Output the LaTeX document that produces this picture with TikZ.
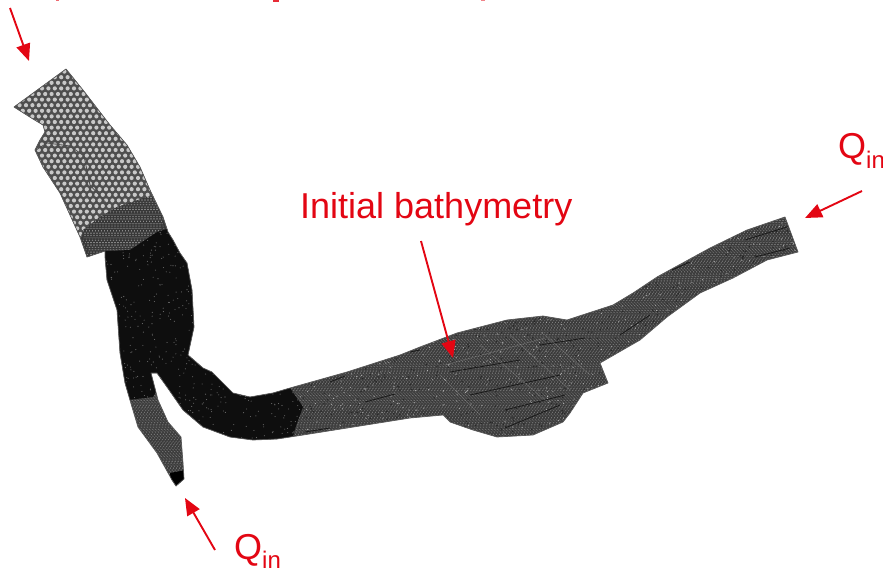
\documentclass[tikz,border=0pt]{standalone}
\usepackage{fontspec}
\setmainfont{Liberation Sans}
\usetikzlibrary{arrows.meta}
\definecolor{redarrow}{RGB}{227,6,19}
\definecolor{coarsebase}{RGB}{78,78,78}
\definecolor{coarsedot}{RGB}{200,200,200}
\definecolor{transbase}{RGB}{55,55,55}
\definecolor{transdot}{RGB}{150,150,150}
\definecolor{midbase}{RGB}{58,58,58}
\definecolor{midtex}{RGB}{130,130,130}
\definecolor{dense}{RGB}{14,14,14}
\definecolor{densedot}{RGB}{110,110,110}
\tikzset{
  px/.style={x=1pt,y=-1pt},
  callout/.style={draw=redarrow,line width=1.9pt,-{Triangle[length=17pt,width=14pt]}},
  lab/.style={text=redarrow,inner sep=0pt,anchor=base west,font=\fontsize{36pt}{38pt}\selectfont},
  outline/.style={draw=black!65,line width=.7pt,line join=round},
  streak/.style={draw=black!90,line width=.8pt},
  hatch/.style={draw=midtex,line width=.55pt,dash pattern=on .8pt off 1.6pt}
}
\newcommand{\rvsil}{(14,107) -- (66,69) -- (83,90) -- (110,125) -- (127,145) -- (140,167) -- (150,190) -- (163,217) -- (168,232) -- (173,240) -- (180,253) -- (187,263) -- (192,290) -- (194,327) -- (188,355) -- (203,368) -- (212,372) -- (233,393) -- (250,397) -- (273,393) -- (290,388) -- (347,372) -- (400,355) -- (420,347) -- (457,333) -- (507,320) -- (543,316) -- (567,320) -- (613,305) -- (633,293) -- (657,277) -- (710,248) -- (747,230) -- (785,217) -- (798,252) -- (767,260) -- (733,278) -- (700,293) -- (667,317) -- (640,340) -- (600,363) -- (608,383) -- (583,393) -- (570,413) -- (563,422) -- (533,435) -- (497,437) -- (473,430) -- (450,422) -- (443,415) -- (410,418) -- (303,435) -- (277,439) -- (253,440) -- (230,437) -- (203,427) -- (183,410) -- (167,387) -- (157,373) -- (151,373) -- (158,400) -- (168,422) -- (181,437) -- (183,463) -- (184,479) -- (176,486) -- (172,480) -- (157,453) -- (138,427) -- (132,407) -- (125,383) -- (120,353) -- (117,310) -- (107,280) -- (105,257) -- (105,251) -- (87,257) -- (80,237) -- (60,193) -- (43,167) -- (35,150) -- (40,140) -- (45,132) -- (43,125) -- (33,119) -- cycle}
\newcommand{\rvcoarse}{(0,50) -- (100,50) -- (175,195) -- (147,197) -- (117,207) -- (100,217) -- (83,230) -- (70,270) -- (0,270) -- cycle}
\newcommand{\rvtrans}{(83,230) -- (100,217) -- (117,207) -- (147,197) -- (175,195) -- (175,232) -- (157,232) -- (130,250) -- (105,251) -- (80,262) -- cycle}
\newcommand{\rvdense}{(95,255) -- (105,251) -- (130,250) -- (157,232) -- (180,225) -- (205,260) -- (205,360) -- (290,388) -- (303,407) -- (297,423) -- (290,445) -- (200,450) -- (160,385) -- (153,397) -- (128,400) -- (95,400) -- cycle}
\begin{document}
\begin{tikzpicture}[px]
\useasboundingbox (0,0) rectangle (883,570);
\pgfmathsetseed{4242}
\begin{scope}
\clip \rvsil;
\fill[midbase] (0,50) rectangle (820,500);
% mesh texture of the river
\foreach \i in {0,...,420} \draw[hatch] ({\i*3-200},200) -- ({\i*3+100},500);
\foreach \i in {0,...,420} \draw[hatch] ({\i*3-200},200) -- ({\i*3-400},500);
\foreach \i in {1,...,900}{
  \pgfmathsetmacro{\dx}{290+rnd*510}
  \pgfmathsetmacro{\dy}{215+rnd*225}
  \fill[black!85] (\dx,\dy) circle (.8pt);
  \pgfmathsetmacro{\dx}{290+rnd*510}
  \pgfmathsetmacro{\dy}{215+rnd*225}
  \fill[black!30] (\dx,\dy) circle (.6pt);
}
% coarse zone
\fill[coarsebase] \rvcoarse;
\begin{scope}
\clip \rvcoarse;
\foreach \r in {0,...,33}{
  \foreach \c in {0,...,30}{
    \fill[coarsedot] ({10+\c*6.4+mod(\r,2)*3.2},{66+\r*5.6}) circle (2.1pt);
  }
}
\draw[black!70,line width=.8pt] (36,150) -- (47,143) -- (70,146) -- (84,156) -- (90,185) -- (108,205);
\end{scope}
% transition zone
\fill[transbase] \rvtrans;
\begin{scope}
\clip \rvtrans;
\foreach \i in {0,...,34} \draw[transdot,line width=.6pt,dash pattern=on 1pt off 1.5pt] ({70+\i*3},190) -- ({70+\i*3-25},265);
\foreach \i in {0,...,34} \draw[transdot,line width=.6pt,dash pattern=on 1pt off 1.5pt] ({70+\i*3},190) -- ({70+\i*3+25},265);
\end{scope}
% dense zone
\fill[dense] \rvdense;
\begin{scope}
\clip \rvdense;
\foreach \i in {1,...,800}{
  \pgfmathsetmacro{\dx}{95+rnd*210}
  \pgfmathsetmacro{\dy}{230+rnd*215}
  \fill[densedot] (\dx,\dy) circle (.55pt);
}
\end{scope}
% inlet tip
\fill[black] (170,473) -- (186,470) -- (186,490) -- (172,490) -- cycle;
% dark streaks
\foreach \a/\b/\c/\d in {365/402/395/394, 450/372/520/360, 470/395/560/375, 505/410/565/395, 505/428/560/405, 540/345/585/338, 755/257/790/248, 745/240/790/226, 672/270/690/262, 620/335/650/315, 305/432/330/428, 330/382/345/376, 410/352/420/350}
  \draw[streak] (\a,\b) -- (\c,\d);
\foreach \a/\b/\c/\d in {480/345/545/400, 510/335/570/390, 545/335/590/375, 440/375/480/415, 445/365/545/338}
  \draw[draw=black!35,opacity=.3,line width=.7pt] (\a,\b) -- (\c,\d);
\end{scope}
\draw[outline] \rvsil;
% labels
\node[lab] (init) at (300,218) {Initial bathymetry};
\node[lab] (qa) at (838,158) {Q\raisebox{-10pt}{\fontsize{24pt}{24pt}\selectfont in}};
\node[lab] (qb) at (234,559) {Q\raisebox{-9pt}{\fontsize{24pt}{24pt}\selectfont in}};
% arrow anchors
\coordinate (a1s) at (421,241); \coordinate (a1e) at (453,358);
\coordinate (a2s) at (862,191); \coordinate (a2e) at (805,218);
\coordinate (a3s) at (215,550); \coordinate (a3e) at (185,498);
\coordinate (a4s) at (10,8);    \coordinate (a4e) at (29,61);
\draw[callout] (a1s) -- (a1e);
\draw[callout] (a2s) -- (a2e);
\draw[callout] (a3s) -- (a3e);
\draw[callout] (a4s) -- (a4e);
% clipped letter tails at the top edge
\fill[redarrow!60] (56,0) rectangle (59,1);
\fill[redarrow!85] (273,0) rectangle (279,1.5);
\fill[redarrow!50] (481,0) rectangle (485,1.2);
\end{tikzpicture}
\end{document}
